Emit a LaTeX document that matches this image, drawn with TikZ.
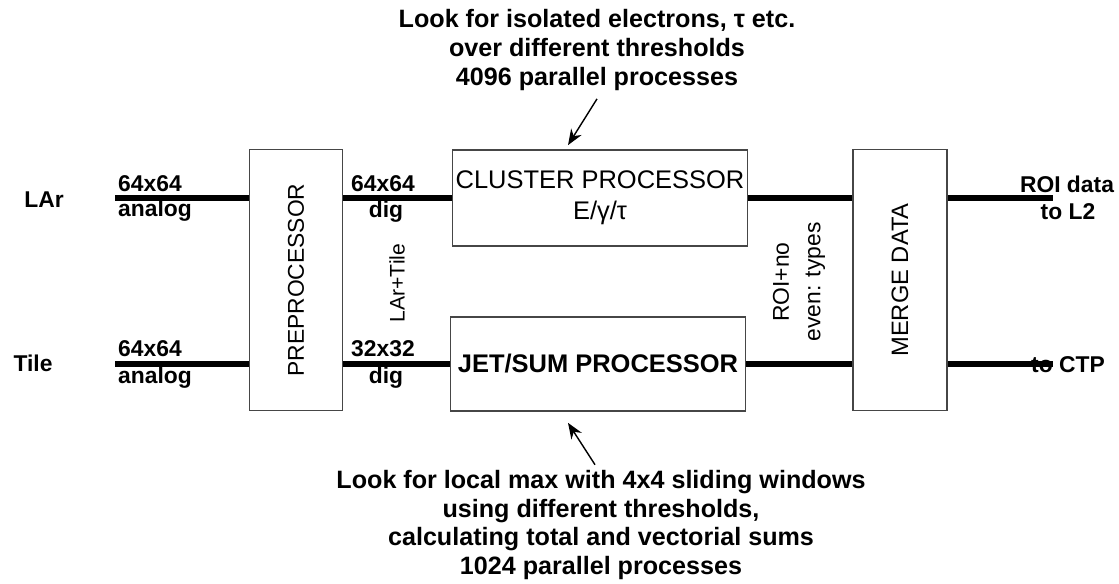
\documentclass[tikz,border=0pt]{standalone}
\usepackage{fontspec}
\setmainfont{Liberation Sans}
\usepackage{xcolor}
\definecolor{boxgray}{RGB}{70,70,70}
\usetikzlibrary{arrows.meta}
\tikzset{
  procbox/.style={draw=boxgray, line width=1pt, inner sep=0pt, align=center,
    font=\fontsize{14.5}{17.5}\selectfont},
  sigline/.style={line width=3.4pt},
  siglabel/.style={font=\bfseries\fontsize{13}{15}\selectfont, inner sep=0pt},
  note/.style={font=\bfseries\fontsize{14.3}{16.4}\selectfont, align=center, inner sep=0pt},
  notearrow/.style={line width=0.8pt, -{Stealth[length=9pt, width=7pt]}}
}
\begin{document}
\begin{tikzpicture}[x=0.02cm, y=-0.02cm]
  \useasboundingbox (0,0) rectangle (1119,584);
  \node[procbox, rotate=90, minimum width=5.22cm, minimum height=1.86cm, font=\fontsize{13}{15}\selectfont] (preproc) at (296,280) {PREPROCESSOR};
  \node[procbox, minimum width=5.9cm, minimum height=1.92cm] (cluster) at (600,198) {CLUSTER PROCESSOR\\E/γ/τ};
  \node[procbox, minimum width=5.9cm, minimum height=1.88cm, font=\bfseries\fontsize{14.5}{17.5}\selectfont] (jet) at (598,364) {JET/SUM PROCESSOR};
  \node[procbox, rotate=90, minimum width=5.22cm, minimum height=1.88cm, font=\fontsize{13.5}{15}\selectfont] (merge) at (900,280) {MERGE DATA};
  \coordinate (larin) at (115,198);
  \coordinate (tilein) at (115,364);
  \coordinate (l2out) at (1053,198);
  \coordinate (ctpout) at (1053,364);
  % rotated boxes: north is the left side, south the right side
  \draw[sigline] (larin) -- (larin -| preproc.north);
  \draw[sigline] (tilein) -- (tilein -| preproc.north);
  \draw[sigline] (cluster.west -| preproc.south) -- (cluster.west);
  \draw[sigline] (jet.west -| preproc.south) -- (jet.west);
  \draw[sigline] (cluster.east) -- (cluster.east -| merge.north);
  \draw[sigline] (jet.east) -- (jet.east -| merge.north);
  \draw[sigline] (l2out -| merge.south) -- (l2out);
  \draw[sigline] (ctpout -| merge.south) -- (ctpout);
  \node[siglabel] (lar) at (44,200) {LAr};
  \node[siglabel] (tile) at (33,363) {Tile};
  \node[siglabel] (larsize) at (150,184) {64x64};
  \node[siglabel] (laran) at (155,211) {analog};
  \node[siglabel] (tilesize) at (150,349) {64x64};
  \node[siglabel] (tilean) at (155,378) {analog};
  \node[siglabel] (emsize) at (383,184) {64x64};
  \node[siglabel] (emdig) at (386,212) {dig};
  \node[siglabel] (jetsize) at (383,349) {32x32};
  \node[siglabel] (jetdig) at (386,378) {dig};
  \node[siglabel] (roiout) at (1067,184) {ROI data};
  \node[siglabel] (l2) at (1068,212) {to L2};
  \node[siglabel] (ctp) at (1068,365) {to CTP};
  \node[rotate=90, inner sep=0pt, font=\fontsize{12}{14}\selectfont] (sum) at (397,283) {LAr+Tile};
  \node[rotate=90, inner sep=0pt, align=center, font=\fontsize{13}{18}\selectfont] (roi) at (799,282) {ROI+no\\even: types};
  \node[note] (topnote) at (597,50) {Look for isolated electrons, τ etc.\\over different thresholds\\4096 parallel processes};
  \node[note] (botnote) at (601,525) {Look for local max with 4x4 sliding windows\\using different thresholds,\\calculating total and vectorial sums\\1024 parallel processes};
  \draw[notearrow] ([yshift=-0.16cm]topnote.south) -- ([shift={(-0.64cm,0.08cm)}]cluster.north);
  \draw[notearrow] ([shift={(-0.12cm,0.1cm)}]botnote.north) -- ([shift={(-0.6cm,-0.22cm)}]jet.south);
\end{tikzpicture}
\end{document}
